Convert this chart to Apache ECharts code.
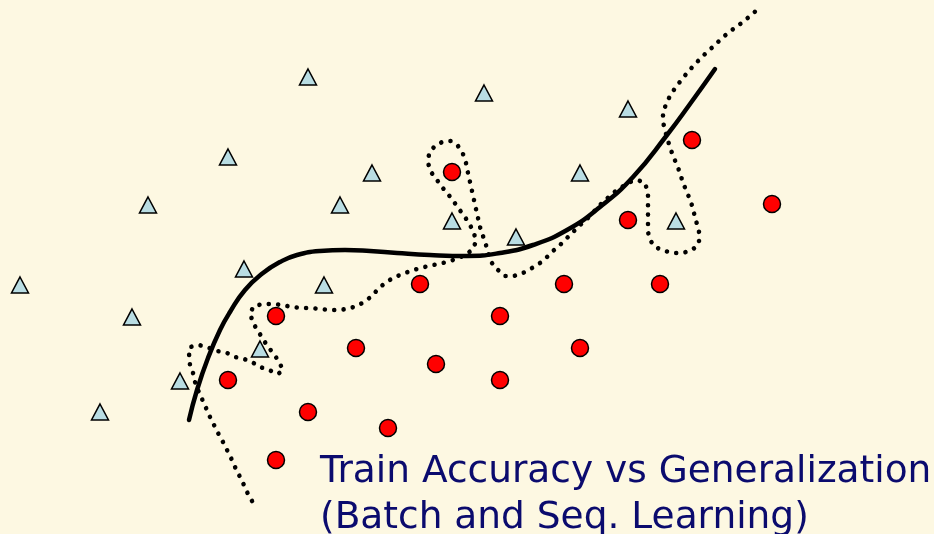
<!DOCTYPE html>
<html>
<head>
<meta charset="utf-8">
<script src="https://cdn.jsdelivr.net/npm/echarts@6/dist/echarts.min.js"></script>
<style>
  html, body { margin: 0; padding: 0; background: #fdf8e2; }
  #main { width: 934px; height: 534px; }
</style>
</head>
<body>
<div id="main"></div>
<script>
// class A points (triangles) in pixel units
var triangles = [
    [20, 285], [100, 412], [132, 317], [148, 205], [180, 381], [228, 157],
    [244, 269], [260, 349], [308, 77], [324, 285], [340, 205], [372, 173],
    [452, 221], [484, 93], [516, 237], [580, 173], [628, 109], [676, 221]
];
// class B points (circles)
var circles = [
    [228, 380], [276, 316], [276, 460], [308, 412], [356, 348], [388, 428],
    [420, 284], [436, 364], [452, 172], [500, 316], [500, 380], [564, 284],
    [580, 348], [628, 220], [660, 284], [692, 140], [772, 204]
];
// smooth decision boundary
var smoothBoundary = [
    [189, 420], [197, 390], [208, 358], [220, 330], [230, 312], [245, 290],
    [263, 273], [280, 262], [297, 255], [320, 251], [345, 250], [370, 251],
    [397, 253], [430, 255], [467, 256], [500, 253], [533, 245], [567, 230],
    [600, 207], [633, 177], [667, 135], [690, 104], [715, 69]
];
// overfitted boundary (dotted)
var overfitBoundary = [
    [252, 501], [247, 492], [243, 483], [239, 475], [235, 467], [231, 458],
    [227, 450], [223, 442], [218, 433], [214, 425], [210, 417], [206, 408],
    [202, 399], [198, 390], [195, 382], [193, 373], [190, 365], [189, 356],
    [190, 347], [199, 345], [209, 348], [217, 351], [227, 353], [235, 357],
    [244, 359], [252, 362], [260, 367], [269, 370], [278, 374], [283, 370],
    [279, 362], [274, 354], [268, 347], [263, 339], [258, 331], [253, 323],
    [250, 313], [254, 306], [263, 304], [273, 304], [282, 305], [292, 307],
    [301, 308], [310, 308], [320, 309], [329, 310], [338, 310], [347, 309],
    [357, 306], [364, 302], [372, 296], [378, 289], [385, 283], [393, 278],
    [402, 274], [411, 271], [420, 268], [429, 266], [438, 264], [447, 262],
    [456, 259], [465, 255], [472, 250], [476, 242], [474, 233], [470, 225],
    [465, 217], [459, 209], [454, 202], [448, 194], [442, 187], [437, 180],
    [431, 172], [428, 163], [429, 154], [434, 147], [442, 142], [451, 141],
    [458, 146], [463, 154], [466, 163], [468, 173], [470, 182], [472, 191],
    [474, 200], [476, 209], [478, 218], [480, 227], [483, 236], [486, 245],
    [488, 253], [492, 263], [498, 270], [505, 276], [514, 276], [523, 273],
    [532, 268], [540, 263], [547, 257], [553, 251], [560, 245], [567, 238],
    [573, 232], [580, 225], [587, 219], [600, 205], [613, 193], [622, 187],
    [630, 182], [638, 180], [645, 183], [648, 193], [648, 213], [648, 232],
    [650, 240], [655, 247], [665, 251], [673, 253], [683, 253], [692, 250],
    [698, 245], [700, 237], [698, 227], [695, 218], [693, 208], [690, 200],
    [687, 192], [683, 183], [680, 173], [677, 165], [673, 156], [670, 147],
    [667, 138], [665, 130], [663, 122], [663, 112], [667, 102], [671, 94],
    [676, 87], [682, 79], [688, 72], [694, 65], [701, 58], [707, 52],
    [714, 46], [721, 39], [728, 33], [736, 27], [743, 22], [750, 16], [757, 10]
];
var captionLines = ['Train Accuracy vs Generalization', '(Batch and Seq. Learning)'];

var myChart = echarts.init(document.getElementById('main'));

var navy = '#0b0b6e';

var settings = {
    backgroundColor: '#fdf8e2',
    animation: false,
    grid: { left: 0, right: 0, top: 0, bottom: 0 },
    // axes only serve as a pixel-like canvas, nothing is shown
    xAxis: { type: 'value', min: 0, max: 934, show: false },
    yAxis: { type: 'value', min: 0, max: 534, inverse: true, show: false },
    graphic: [
        {
            type: 'text', left: 320, top: 453,
            style: { text: captionLines[0], fill: navy, font: '37.5px "DejaVu Sans"' }
        },
        {
            type: 'text', left: 320, top: 499,
            style: { text: captionLines[1], fill: navy, font: '37.5px "DejaVu Sans"' }
        }
    ],
    series: [
        {
            name: 'overfit',
            type: 'line',
            data: overfitBoundary,
            showSymbol: false,
            smooth: false,
            lineStyle: { color: '#000', width: 4.6, type: [0.01, 9.4], cap: 'round', join: 'round' },
            z: 2
        },
        {
            name: 'smooth',
            type: 'line',
            data: smoothBoundary,
            showSymbol: false,
            smooth: 0.5,
            lineStyle: { color: '#000', width: 4.5, cap: 'round', join: 'round' },
            z: 3
        },
        {
            name: 'A',
            type: 'scatter',
            data: triangles,
            symbol: 'triangle',
            symbolSize: [17, 16],
            itemStyle: { color: '#b9dde3', borderColor: '#000', borderWidth: 1.5, opacity: 1 },
            z: 4
        },
        {
            name: 'B',
            type: 'scatter',
            data: circles,
            symbol: 'circle',
            symbolSize: 17,
            itemStyle: { color: '#ff0000', borderColor: '#000', borderWidth: 1.5, opacity: 1 },
            z: 4
        }
    ]
};

myChart.setOption(settings);
</script>
</body>
</html>
